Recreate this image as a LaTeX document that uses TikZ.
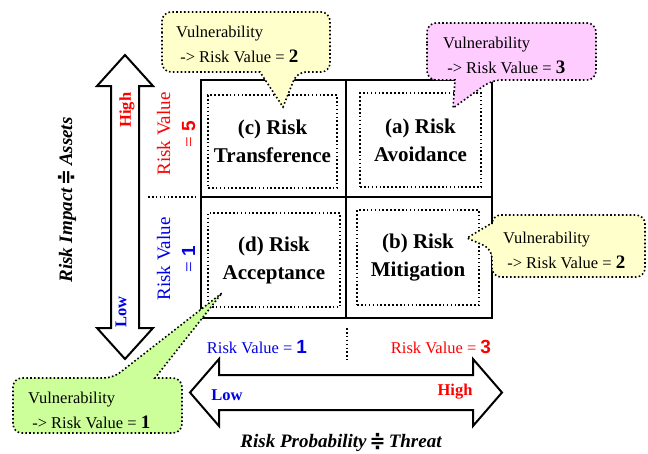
\documentclass[tikz,border=0pt]{standalone}
\usepackage{fontspec}
\setmainfont{Liberation Serif}
\newfontfamily\numfont{Liberation Sans}
\newfontfamily\symfont{DejaVu Sans}
\usetikzlibrary{arrows.meta, positioning, calc, }

\definecolor{calloutyellow}{HTML}{FFFFCC}
\definecolor{calloutpink}{HTML}{FFCCFF}
\definecolor{calloutgreen}{HTML}{CCFF99}
\definecolor{valblue}{HTML}{0000E6}
\definecolor{valred}{HTML}{FF0000}

\newcommand{\bignum}[1]{{\numfont\bfseries\fontsize{19}{19}\selectfont #1}}
\newcommand{\vulnnum}[1]{{\bfseries\fontsize{19}{19}\selectfont #1}}
\newcommand{\nearlyeq}{{\symfont\bfseries\upshape ≑}}

\begin{document}
\begin{tikzpicture}[x=1pt, y=-1pt,
    font=\fontsize{16.5}{25}\selectfont,
    dotline/.style={line width=1.6pt, dash pattern=on 1.6pt off 2.3pt},
    cellbox/.style={draw, dotline, align=center, inner sep=0pt,
        font=\bfseries\fontsize{21}{28}\selectfont},
    calloutbox/.style={draw, dotline, rounded corners=9pt},
    blockarrow/.style={draw, line width=2pt, fill=white, line join=miter},
    axislabel/.style={font=\bfseries\itshape\fontsize{19}{19}\selectfont},
    sidevalue/.style={rotate=90, align=center, font=\fontsize{19}{25}\selectfont},
    vulntext/.style={anchor=west, align=left, inner sep=0pt}]
    \useasboundingbox (0, 0) rectangle (648, 453);

    \coordinate (NW) at (201, 80);
    \coordinate (SE) at (492, 318);
    \coordinate (M) at (346, 197);

    % quadrant grid
    \draw[line width=1.4pt] (NW) rectangle (SE);
    \draw[line width=1.4pt] (M |- NW) -- (M |- SE);
    \draw[line width=1.4pt] (M -| NW) -- (M -| SE);

    \node[cellbox, minimum width=129, minimum height=93] (cellc) at (272.5, 141.5) {(c) Risk\\Transference};
    \node[cellbox, minimum width=121, minimum height=94] (cella) at (420.5, 140) {(a) Risk\\Avoidance};
    \node[cellbox, minimum width=132, minimum height=94] (celld) at (274, 260) {(d) Risk\\Acceptance};
    \node[cellbox, minimum width=122, minimum height=95] (cellb) at (418, 257.5) {(b) Risk\\Mitigation};

    % vertical axis
    \draw[blockarrow] (125, 55) -- (153, 86) -- (139, 86) -- (139, 328) -- (153, 328)
        -- (125, 359) -- (97, 328) -- (111, 328) -- (111, 86) -- (97, 86) -- cycle;
    \node[rotate=90, text=valred, font=\bfseries\fontsize{16.5}{16.5}\selectfont] (high) at (127, 110) {High};
    \node[rotate=90, text=valblue, font=\bfseries\fontsize{16.5}{16.5}\selectfont] (low) at (121, 312) {Low};
    \node[axislabel, rotate=90] (impact) at (67, 200) {Risk Impact\,\nearlyeq\,Assets};

    \node[sidevalue, text=valred] (rv5) at (176, 134) {Risk Value\\= \bignum{5}};
    \node[sidevalue, text=valblue] (rv1) at (176, 259) {Risk Value\\= \bignum{1}};
    \draw[dotline] (148, 197) -- (197, 197);

    % horizontal axis
    \draw[blockarrow] (190, 392.5) -- (219, 359) -- (219, 375) -- (473, 375) -- (473, 359)
        -- (502, 392.5) -- (473, 426) -- (473, 410) -- (219, 410) -- (219, 426) -- cycle;
    \node[text=valblue, font=\bfseries\fontsize{16.5}{16.5}\selectfont] (left) at (227, 395) {Low};
    \node[text=valred, font=\bfseries\fontsize{16.5}{16.5}\selectfont] (right) at (455, 392) {High};
    \node[axislabel] (prob) at (341, 442) {Risk Probability\,\nearlyeq\,Threat};

    \node[text=valblue] (pv1) at (257, 347) {Risk Value = \bignum{1}};
    \node[text=valred] (pv3) at (441, 347) {Risk Value = \bignum{3}};
    \draw[dotline] (347, 328) -- (347, 360);

    % callouts
    \path[calloutbox, fill=calloutyellow] (162, 42) -- (162, 12) -- (330, 12) -- (330, 72) -- (297, 72)
        [sharp corners] -- (283, 107) -- (260, 72) [rounded corners=9pt] -- (162, 72) -- cycle;
    \node[vulntext] (vulnc) at (176, 44) {Vulnerability\\\hspace*{0.25em}-> Risk Value = \vulnnum{2}};

    \path[calloutbox, fill=calloutpink] (427, 52) -- (427, 23) -- (596, 23) -- (596, 80) -- (492, 80)
        [sharp corners] -- (453, 108) -- (455, 80) [rounded corners=9pt] -- (427, 80) -- cycle;
    \node[vulntext] (vulna) at (443, 55) {Vulnerability\\\hspace*{0.25em}-> Risk Value = \vulnnum{3}};

    \path[calloutbox, fill=calloutyellow] (570, 215) -- (645, 215) -- (645, 277) -- (492, 277) -- (492, 249)
        [sharp corners] -- (467, 238) -- (492, 223) [rounded corners=9pt] -- (492, 215) -- cycle;
    \node[vulntext] (vulnb) at (503, 250) {Vulnerability\\\hspace*{0.25em}-> Risk Value = \vulnnum{2}};

    \path[calloutbox, fill=calloutgreen] (13, 405) -- (13, 378) -- (113, 378)
        [sharp corners] -- (222, 293) -- (155, 378) [rounded corners=9pt] -- (182, 378) -- (182, 433)
        -- (13, 433) -- cycle;
    \node[vulntext] (vulnd) at (28, 410) {Vulnerability\\\hspace*{0.25em}-> Risk Value = \vulnnum{1}};

\end{tikzpicture}
\end{document}
